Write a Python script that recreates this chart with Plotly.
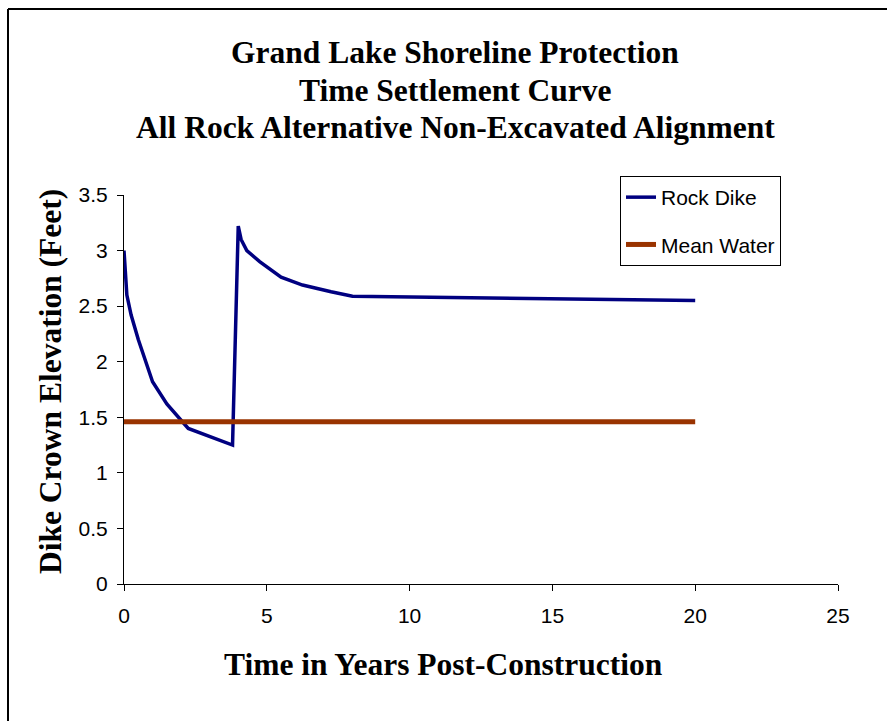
import plotly.graph_objects as go

# Settlement history of the dike crown (years, feet)
years = [0, 0.1, 0.25, 0.5, 1.0, 1.5, 2.25, 3.8, 4.0, 4.1, 4.3, 4.75, 5.5, 6.25, 7.25, 8.0, 20.0]
crown_elev = [3.0, 2.6, 2.42, 2.2, 1.82, 1.62, 1.4, 1.25, 3.22, 3.1, 3.0, 2.9, 2.76, 2.69, 2.63, 2.59, 2.55]

# Mean water level across the same period
water_years = [0, 20]
water_elev = [1.46, 1.46]

x_ticks = [0, 5, 10, 15, 20, 25]
y_ticks = [0, 0.5, 1, 1.5, 2, 2.5, 3, 3.5]
y_tick_text = ["0", "0.5", "1", "1.5", "2", "2.5", "3", "3.5"]

W, H = 887, 721
L, R, T, B = 124, 49, 195, 137
pw, ph = W - L - R, H - T - B


def px_x(p):
    return (p - L) / pw


def px_y(p):
    return (H - B - p) / ph


fig = go.Figure()
fig.add_trace(go.Scatter(x=years, y=crown_elev, mode="lines", name="Rock Dike",
                         legendgroup="a",
                         line=dict(color="#000080", width=3.5)))
fig.add_trace(go.Scatter(x=water_years, y=water_elev, mode="lines", name="Mean Water",
                         legendgroup="b",
                         line=dict(color="#993300", width=5)))

serif = "Liberation Serif, Times New Roman, serif"
sans = "Liberation Sans, Arial, sans-serif"

fig.update_layout(
    width=W, height=H,
    margin=dict(l=L, r=R, t=T, b=B),
    paper_bgcolor="white", plot_bgcolor="white",
    showlegend=True,
    legend=dict(x=px_x(620), y=px_y(176), xanchor="left", yanchor="top",
                bordercolor="#000", borderwidth=1, bgcolor="white",
                font=dict(family=sans, size=21, color="#000"),
                traceorder="grouped", tracegroupgap=17),
    xaxis=dict(range=[0, 25], tickvals=x_ticks, showgrid=False, zeroline=False,
               showline=True, linecolor="#000", linewidth=1,
               ticks="outside", ticklen=6, tickcolor="#000",
               ticklabelstandoff=7,
               tickfont=dict(family=sans, size=21, color="#000")),
    yaxis=dict(range=[0, 3.5], tickvals=y_ticks, ticktext=y_tick_text,
               showgrid=False, zeroline=False,
               showline=True, linecolor="#000", linewidth=1,
               ticks="outside", ticklen=6, tickcolor="#000",
               ticklabelstandoff=5,
               tickfont=dict(family=sans, size=21, color="#000")),
)

annotations = [
    dict(text="<b>Grand Lake Shoreline Protection</b>", x=px_x(455), y=px_y(53)),
    dict(text="<b>Time Settlement Curve</b>", x=px_x(455), y=px_y(90)),
    dict(text="<b>All Rock Alternative Non-Excavated Alignment</b>", x=px_x(455), y=px_y(128)),
    dict(text="<b>Time in Years Post-Construction</b>", x=px_x(443), y=px_y(664)),
    dict(text="<b>Dike Crown Elevation (Feet)</b>", x=px_x(50), y=px_y(382), textangle=-90),
]
for a in annotations:
    fig.add_annotation(xref="paper", yref="paper", showarrow=False,
                       xanchor="center", yanchor="middle",
                       font=dict(family=serif, size=31.5, color="#000"), **a)

# Chart frame (top and left edges)
fig.add_shape(type="line", xref="paper", yref="paper",
              x0=px_x(8), x1=px_x(890), y0=px_y(9), y1=px_y(9),
              line=dict(color="#000", width=2))
fig.add_shape(type="line", xref="paper", yref="paper",
              x0=px_x(8), x1=px_x(8), y0=px_y(9), y1=px_y(725),
              line=dict(color="#000", width=2))

fig.write_html("out.html")
